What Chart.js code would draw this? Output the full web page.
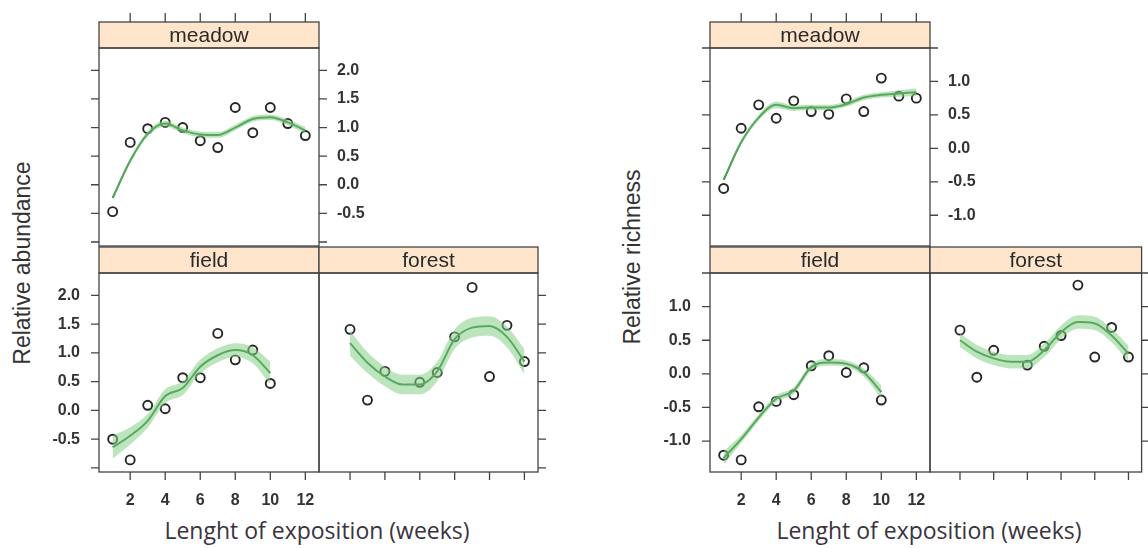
<!DOCTYPE html>
<html>
<head>
<meta charset="utf-8">
<script src="https://cdn.jsdelivr.net/npm/chart.js@4"></script>
<style>
  body { margin: 0; background: #fff; }
  #wrap { position: relative; width: 1148px; height: 548px; overflow: hidden; }
  #wrap canvas { position: absolute; left: 0; top: 0; }
  .ytitle { position: absolute; font: 23px "Liberation Sans", Arial, sans-serif; color: #333;
    transform: translate(-50%, -50%) rotate(-90deg); white-space: nowrap; }
  .xtitle { position: absolute; font: 23px "Open Sans", sans-serif; color: #3b3340;
    transform: translate(-50%, -50%); white-space: nowrap; }
</style>
</head>
<body>
<div id="wrap">
  <div class="ytitle" style="left:22px; top:263px;">Relative abundance</div>
  <div class="ytitle" style="left:632px; top:257px;">Relative richness</div>
  <div class="xtitle" style="left:317px; top:530px;">Lenght of exposition (weeks)</div>
  <div class="xtitle" style="left:929px; top:530px;">Lenght of exposition (weeks)</div>
</div>
<script>
// weeks
const weeks = [1, 2, 3, 4, 5, 6, 7, 8, 9, 10, 11, 12];
const fieldWeeks = [1, 2, 3, 4, 5, 6, 7, 8, 9, 10];
const forestWeeks = [2, 3, 4, 6, 7, 8, 9, 10, 11, 12];
const forestFitWeeks = [2, 3, 4, 5, 6, 7, 8, 9, 10, 11, 12];

// relative abundance
const abMeadow = [-0.47, 0.74, 0.98, 1.09, 1.0, 0.77, 0.65, 1.35, 0.91, 1.35, 1.07, 0.86];
const abMeadowFit = [-0.23, 0.42, 0.89, 1.07, 0.95, 0.88, 0.87, 1.0, 1.15, 1.18, 1.09, 0.95];
const abMeadowSe = [0.03, 0.04, 0.05, 0.05, 0.05, 0.05, 0.05, 0.05, 0.05, 0.05, 0.05, 0.06];
const abField = [-0.5, -0.86, 0.09, 0.03, 0.57, 0.57, 1.34, 0.88, 1.05, 0.47];
const abFieldFit = [-0.64, -0.44, -0.18, 0.25, 0.39, 0.76, 0.96, 1.05, 0.96, 0.65];
const abFieldSe = [0.2, 0.15, 0.12, 0.12, 0.12, 0.12, 0.12, 0.12, 0.14, 0.2];
const abForest = [1.41, 0.18, 0.68, 0.49, 0.66, 1.28, 2.14, 0.59, 1.48, 0.85];
const abForestFit = [1.17, 0.83, 0.59, 0.45, 0.45, 0.68, 1.24, 1.44, 1.47, 1.28, 0.85];
const abForestSe = [0.22, 0.18, 0.17, 0.17, 0.17, 0.17, 0.17, 0.17, 0.17, 0.18, 0.22];

// relative richness
const riMeadow = [-0.6, 0.3, 0.65, 0.45, 0.71, 0.55, 0.51, 0.74, 0.55, 1.05, 0.78, 0.75];
const riMeadowFit = [-0.47, 0.09, 0.46, 0.65, 0.6, 0.61, 0.61, 0.66, 0.76, 0.8, 0.82, 0.84];
const riMeadowSe = [0.02, 0.03, 0.04, 0.05, 0.04, 0.04, 0.04, 0.04, 0.04, 0.04, 0.05, 0.06];
const riField = [-1.21, -1.28, -0.49, -0.41, -0.31, 0.12, 0.27, 0.02, 0.09, -0.39];
const riFieldFit = [-1.25, -0.97, -0.65, -0.37, -0.25, 0.1, 0.17, 0.15, 0.02, -0.27];
const riFieldSe = [0.1, 0.06, 0.05, 0.05, 0.05, 0.05, 0.05, 0.05, 0.06, 0.1];
const riForest = [0.65, -0.05, 0.35, 0.13, 0.41, 0.57, 1.32, 0.25, 0.69, 0.25];
const riForestFit = [0.5, 0.33, 0.23, 0.18, 0.18, 0.35, 0.62, 0.77, 0.75, 0.57, 0.3];
const riForestSe = [0.1, 0.1, 0.1, 0.1, 0.1, 0.1, 0.1, 0.1, 0.1, 0.1, 0.12];

// ticks
const xTicks = [2, 4, 6, 8, 10, 12];
const abYTicks = [-1, -0.5, 0, 0.5, 1, 1.5, 2];
const abYLabels = [-0.5, 0, 0.5, 1, 1.5, 2];
const riYTicks = [-1, -0.5, 0, 0.5, 1, 1.5];
const riYLabels = [-1, -0.5, 0, 0.5, 1];

const W = 1148, H = 548;
const wrap = document.getElementById("wrap");
const TICK = 8;
const lineCol = "#444";
const textCol = "#2a2a2a";

const latticePlugin = {
  id: "lattice",
  afterDatasetsDraw(chart, args, opts) {
    const ctx = chart.ctx;
    const a = chart.chartArea;
    const xs = chart.scales.x;
    const ys = chart.scales.y;
    ctx.save();
    ctx.strokeStyle = lineCol;
    ctx.lineWidth = 1.3;
    // strip
    const st = a.top - opts.stripH;
    ctx.fillStyle = "#ffe5cc";
    ctx.fillRect(a.left, st, a.right - a.left, opts.stripH);
    ctx.strokeRect(a.left, st, a.right - a.left, opts.stripH);
    ctx.fillStyle = textCol;
    ctx.font = '21px "Liberation Sans", Arial, sans-serif';
    ctx.textAlign = "center";
    ctx.textBaseline = "middle";
    ctx.fillText(opts.strip, (a.left + a.right) / 2, st + opts.stripH / 2 + 1);
    // panel box
    ctx.strokeRect(a.left, a.top, a.right - a.left, a.bottom - a.top);

    ctx.beginPath();
    opts.yTicks.forEach((v) => {
      const py = ys.getPixelForValue(v);
      if (py < a.top - 1 || py > a.bottom + 1) return;
      if (opts.left) { ctx.moveTo(a.left - TICK, py); ctx.lineTo(a.left, py); }
      if (opts.right) { ctx.moveTo(a.right, py); ctx.lineTo(a.right + TICK, py); }
    });
    xTicks.forEach((v) => {
      const px = xs.getPixelForValue(v);
      if (opts.bottom) { ctx.moveTo(px, a.bottom); ctx.lineTo(px, a.bottom + TICK); }
      if (opts.top) { ctx.moveTo(px, st - TICK - 1); ctx.lineTo(px, st); }
    });
    ctx.stroke();

    ctx.font = 'bold 16px "Liberation Sans", Arial, sans-serif';
    ctx.fillStyle = "#333";
    ctx.textBaseline = "middle";
    opts.yLabels.forEach((v) => {
      const py = ys.getPixelForValue(v);
      if (opts.left === "labels") {
        ctx.textAlign = "right";
        ctx.fillText(v.toFixed(1), a.left - TICK - 11, py);
      }
      if (opts.right === "labels") {
        ctx.textAlign = "left";
        ctx.fillText(v.toFixed(1), a.right + TICK + 10, py);
      }
    });
    if (opts.bottom === "labels") {
      ctx.textAlign = "center";
      xTicks.forEach((v) => {
        ctx.fillText(String(v), xs.getPixelForValue(v), a.bottom + 29);
      });
    }
    ctx.restore();
  },
};

function pairs(xv, yv) {
  return xv.map((x, i) => ({ x: x, y: yv[i] }));
}

function band(xv, fit, se, sign) {
  return xv.map((x, i) => ({ x: x, y: fit[i] + sign * se[i] }));
}

function makePanel(rect, strip, yRange, yTicks, yLabels, axes, px, py, fx, fit, se) {
  const canvas = document.createElement("canvas");
  canvas.width = W;
  canvas.height = H;
  wrap.appendChild(canvas);

  new Chart(canvas, {
    type: "line",
    data: {
      datasets: [
        {
          data: band(fx, fit, se, 1),
          borderWidth: 0,
          pointRadius: 0,
          fill: "+1",
          backgroundColor: "rgba(135, 208, 135, 0.55)",
          cubicInterpolationMode: "monotone",
        },
        {
          data: band(fx, fit, se, -1),
          borderWidth: 0,
          pointRadius: 0,
          fill: false,
          cubicInterpolationMode: "monotone",
        },
        {
          data: pairs(fx, fit),
          borderColor: "#217a30",
          borderWidth: 2,
          pointRadius: 0,
          fill: false,
          cubicInterpolationMode: "monotone",
        },
        {
          data: pairs(px, py),
          showLine: false,
          pointRadius: 4.5,
          pointBorderWidth: 1.9,
          pointBorderColor: "#262626",
          pointBackgroundColor: "rgba(0,0,0,0)",
          clip: false,
        },
      ],
    },
    options: {
      responsive: false,
      animation: false,
      events: [],
      layout: {
        padding: { left: rect[0], top: rect[1], right: W - rect[2], bottom: H - rect[3] },
      },
      scales: {
        x: { type: "linear", min: 0.22, max: 12.78, display: false },
        y: { type: "linear", min: yRange[0], max: yRange[1], display: false },
      },
      plugins: {
        legend: { display: false },
        tooltip: { enabled: false },
        lattice: Object.assign({ strip: strip, stripH: 26, yTicks: yTicks, yLabels: yLabels }, axes),
      },
    },
    plugins: [latticePlugin],
  });
}

const abRange = [-1.07, 2.39];
const riRange = [-1.46, 1.5];

// abundance group
makePanel([99, 48, 319, 246], "meadow", abRange, abYTicks, abYLabels,
  { top: "ticks", left: "ticks", right: "labels" }, weeks, abMeadow, weeks, abMeadowFit, abMeadowSe);
makePanel([99, 273, 319, 472], "field", abRange, abYTicks, abYLabels,
  { left: "labels", bottom: "labels" }, fieldWeeks, abField, fieldWeeks, abFieldFit, abFieldSe);
makePanel([319, 273, 538, 472], "forest", abRange, abYTicks, abYLabels,
  { right: "ticks", bottom: "ticks" }, forestWeeks, abForest, forestFitWeeks, abForestFit, abForestSe);

// richness group
makePanel([710, 48, 930, 246], "meadow", riRange, riYTicks, riYLabels,
  { top: "ticks", left: "ticks", right: "labels" }, weeks, riMeadow, weeks, riMeadowFit, riMeadowSe);
makePanel([710, 273, 930, 472], "field", riRange, riYTicks, riYLabels,
  { left: "labels", bottom: "labels" }, fieldWeeks, riField, fieldWeeks, riFieldFit, riFieldSe);
makePanel([930, 273, 1150, 472], "forest", riRange, riYTicks, riYLabels,
  { right: "ticks", bottom: "ticks" }, forestWeeks, riForest, forestFitWeeks, riForestFit, riForestSe);
</script>
</body>
</html>
